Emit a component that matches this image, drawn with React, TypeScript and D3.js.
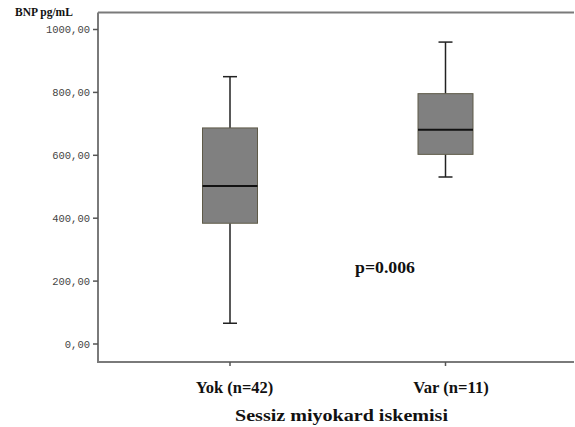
import React from "react";
import * as d3 from "d3";

const W = 575;
const H = 427;

const groups = ["Yok (n=42)", "Var (n=11)"];
const whiskerLow = [66, 531];
const q1 = [384, 603];
const median = [502, 681];
const q3 = [687, 796];
const whiskerHigh = [850, 960];
const yTicks = [0, 200, 400, 600, 800, 1000];

const fmt = (v: number) => `${v},00`;

const serif = "'Liberation Serif', 'Times New Roman', serif";

export default function App() {
  const plot = { left: 98, top: 12.5, right: 574, bottom: 362 };

  const y = d3.scaleLinear().domain([0, 1000]).range([344, 29.5]);
  const x = d3.scalePoint<string>().domain(groups).range([230, 445.5]);

  const boxW = 55;
  const capW = 14;
  const labelShift = [4.5, 5.5];
  const labelLen = [77.5, 75.5];

  return (
    <svg width={W} height={H} style={{ position: "absolute", left: 0, top: 0, background: "#fff" }}>
      {/* frame */}
      <path
        d={`M${plot.left},${plot.top} H${plot.right} M${plot.left},${plot.top} V${plot.bottom} H${plot.right}`}
        fill="none"
        stroke="#7a7a7a"
        strokeWidth={2}
      />

      {/* y ticks */}
      {yTicks.map(t => (
        <g key={t}>
          <line x1={plot.left - 5} x2={plot.left} y1={y(t)} y2={y(t)} stroke="#555" strokeWidth={1.5} />
          <text
            x={plot.left - 8}
            y={y(t)}
            dy="0.35em"
            textAnchor="end"
            fontFamily="'Liberation Mono', 'DejaVu Sans Mono', monospace"
            fontSize={10.5}
            fill="#444"
          >
            {fmt(t)}
          </text>
        </g>
      ))}

      <text x={15} y={16} fontFamily={serif} fontWeight="bold" fontSize={11.5} fill="#111">
        BNP pg/mL
      </text>

      {/* x ticks + labels */}
      {groups.map((g, i) => (
        <g key={g}>
          <line x1={x(g)!} x2={x(g)!} y1={plot.bottom} y2={plot.bottom + 4} stroke="#555" strokeWidth={1.5} />
          <text
            x={(x(g) as number) + labelShift[i] - labelLen[i] / 2}
            y={392.5}
            fontFamily={serif}
            fontWeight="bold"
            fontSize={16}
            textLength={labelLen[i]}
            lengthAdjust="spacingAndGlyphs"
            fill="#111"
          >
            {g}
          </text>
        </g>
      ))}

      <text
        x={235}
        y={421}
        fontFamily={serif}
        fontWeight="bold"
        fontSize={16.5}
        textLength={213}
        lengthAdjust="spacingAndGlyphs"
        fill="#111"
      >
        Sessiz miyokard iskemisi
      </text>

      {/* boxes */}
      {groups.map((g, i) => {
        const cx = x(g) as number;
        return (
          <g key={g}>
            <line x1={cx} x2={cx} y1={y(whiskerHigh[i])} y2={y(q3[i])} stroke="#222" strokeWidth={1.5} />
            <line x1={cx} x2={cx} y1={y(q1[i])} y2={y(whiskerLow[i])} stroke="#222" strokeWidth={1.5} />
            <line x1={cx - capW / 2} x2={cx + capW / 2} y1={y(whiskerHigh[i])} y2={y(whiskerHigh[i])} stroke="#222" strokeWidth={1.5} />
            <line x1={cx - capW / 2} x2={cx + capW / 2} y1={y(whiskerLow[i])} y2={y(whiskerLow[i])} stroke="#222" strokeWidth={1.5} />
            <rect
              x={cx - boxW / 2}
              y={y(q3[i])}
              width={boxW}
              height={y(q1[i]) - y(q3[i])}
              fill="#808080"
              stroke="#5e5a48"
              strokeWidth={1}
            />
            <line x1={cx - boxW / 2} x2={cx + boxW / 2} y1={y(median[i])} y2={y(median[i])} stroke="#111" strokeWidth={2} />
          </g>
        );
      })}

      <text
        x={355}
        y={273}
        fontFamily={serif}
        fontWeight="bold"
        fontSize={16}
        textLength={60}
        lengthAdjust="spacingAndGlyphs"
        fill="#111"
      >
        p=0.006
      </text>
    </svg>
  );
}
